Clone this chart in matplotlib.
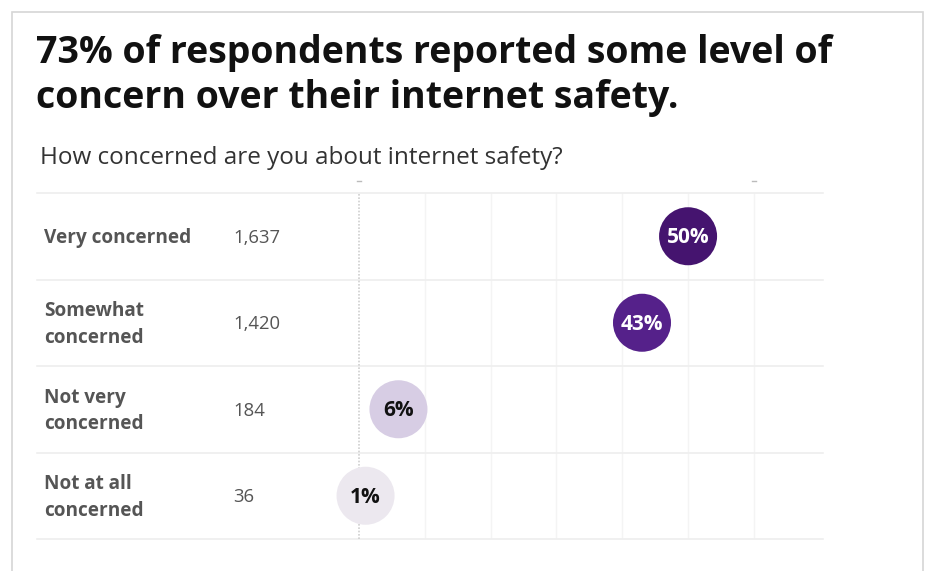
import matplotlib.pyplot as plt
from matplotlib.patches import Rectangle
from matplotlib.transforms import blended_transform_factory

categories = ['Very concerned', 'Somewhat\nconcerned', 'Not very\nconcerned', 'Not at all\nconcerned']
counts = ['1,637', '1,420', '184', '36']
shares = [50, 43, 6, 1]
colors = ['#45146f', '#55218a', '#d7cde4', '#ece8ef']
text_colors = ['white', 'white', '#111111', '#111111']
grid_ticks = [0, 10, 20, 30, 40, 50, 60]

W, H = 930, 571
fig = plt.figure(figsize=(W / 100, H / 100), dpi=100)
plt.rcParams['font.family'] = ['Open Sans', 'DejaVu Sans']


def fx(px):
    return px / W


def fy(py):
    return 1 - py / H


# outer card border
fig.patches.append(Rectangle((fx(12), fy(580)), fx(923) - fx(12), fy(12) - fy(580),
                             transform=fig.transFigure, fill=False,
                             edgecolor='#d6d6d6', linewidth=1.2))

fig.text(fx(36), fy(53), '73% of respondents reported some level of',
         fontsize=27, fontweight='bold', color='#111111', va='center', ha='left')
fig.text(fx(36), fy(98), 'concern over their internet safety.',
         fontsize=27, fontweight='bold', color='#111111', va='center', ha='left')
fig.text(fx(40), fy(158), 'How concerned are you about internet safety?',
         fontsize=17.5, color='#333333', va='center', ha='left')

ax = fig.add_axes([fx(305), fy(539), fx(823) - fx(305), fy(193) - fy(539)])
ax.set_xlim(-8.2, 70.5)
ax.set_ylim(len(categories) - 0.5, -0.5)
ax.axis('off')

for t in grid_ticks[1:]:
    ax.axvline(t, color='#f4f4f4', linewidth=1, zorder=0)
ax.axvline(0, color='#cfcfcf', linewidth=1.2, linestyle=(0, (1, 1)), zorder=1)

# tiny axis marks above the plot
top = blended_transform_factory(ax.transData, fig.transFigure)
for t in [grid_ticks[0], grid_ticks[-1]]:
    ax.plot([t - 0.3, t + 0.3], [fy(181), fy(181)], color='#bbbbbb',
            linewidth=1, transform=top, clip_on=False)

rows = blended_transform_factory(fig.transFigure, ax.transData)
for b in [i - 0.5 for i in range(len(categories) + 1)]:
    ax.plot([fx(37), fx(823)], [b, b], color='#eeeeee', linewidth=1.2,
            transform=rows, clip_on=False, zorder=0)

ys = list(range(len(categories)))
ax.scatter(shares, ys, s=1745, c=colors, linewidths=0, zorder=3, clip_on=False)

for i, (cat, n, v) in enumerate(zip(categories, counts, shares)):
    ax.text(fx(44), i + 0.02, cat, transform=rows, fontsize=13.7, fontweight='bold',
            color='#555555', va='center', ha='left', linespacing=1.45)
    ax.text(fx(233), i + 0.02, n, transform=rows, fontsize=13.3, color='#555555',
            va='center', ha='left')
    ax.text(v, i + 0.02, f'{v}%', fontsize=15, fontweight='bold', color=text_colors[i],
            va='center', ha='center', zorder=4)

fig.savefig('out.png', dpi=100)
